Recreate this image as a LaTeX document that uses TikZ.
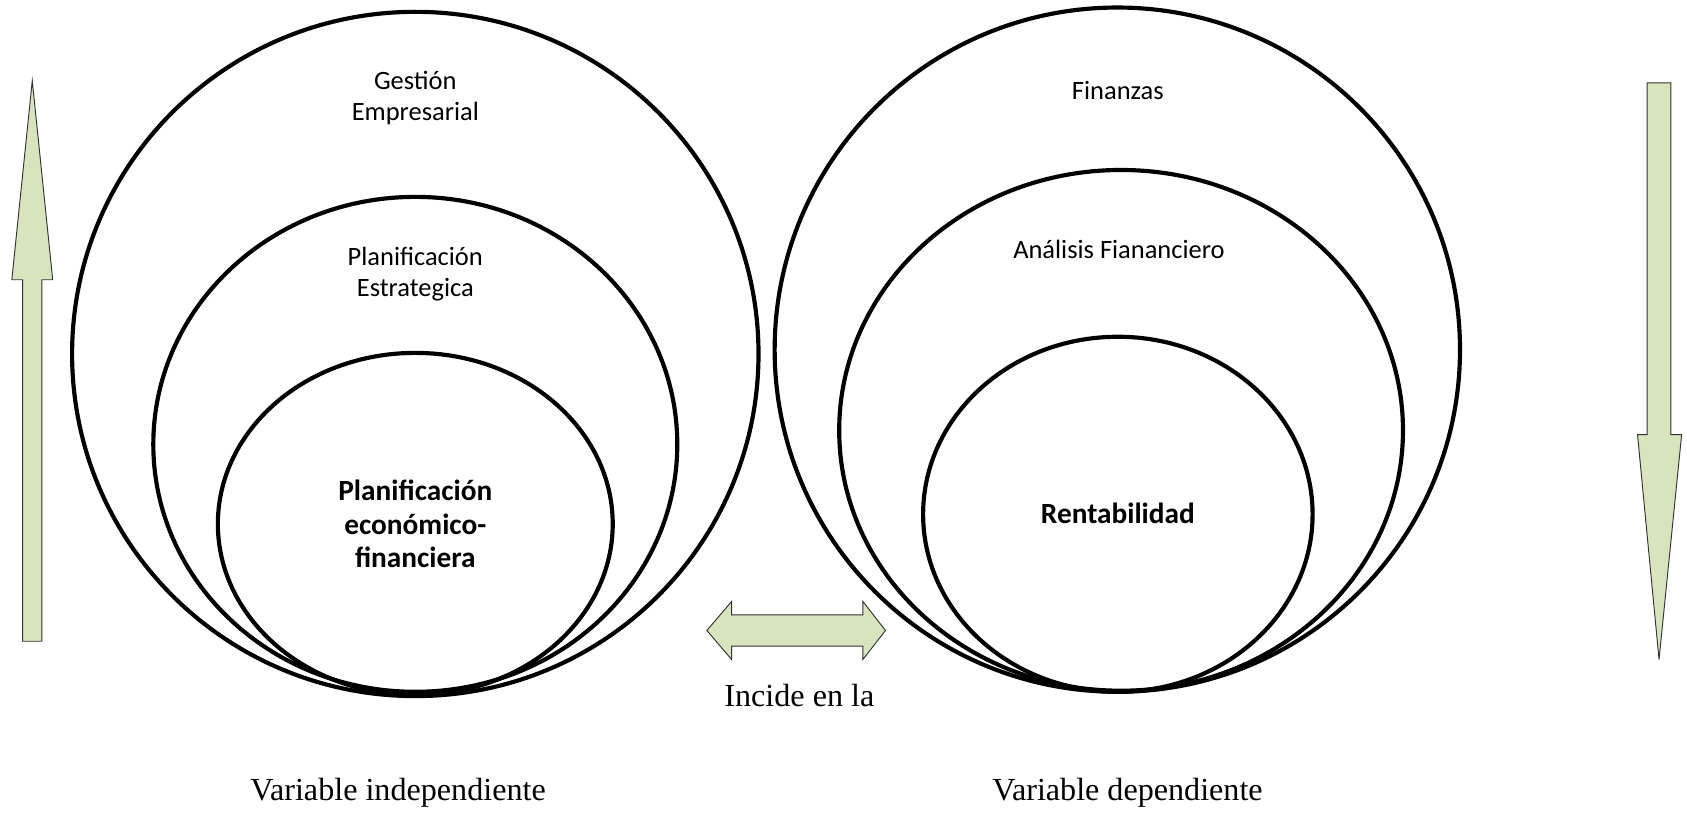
\documentclass[tikz,border=0pt]{standalone}
\usepackage{fontspec}
\setmainfont{Liberation Serif}
\newfontfamily\calibri{Carlito}
\definecolor{arrowgreen}{HTML}{D7E4BD}
\tikzset{
	ring/.style={line width=2.2pt},
	blockarrow/.style={draw=black!80, line width=0.5pt, fill=arrowgreen, line join=miter},
	ringlabel/.style={font=\calibri\fontsize{14}{16.2}\selectfont, align=center},
	corelabel/.style={font=\calibri\bfseries\fontsize{15.5}{17.6}\selectfont, align=center},
	captionlabel/.style={font=\fontsize{17}{20}\selectfont}
}

\begin{document}
\begin{tikzpicture}[x=0.02cm, y=-0.02cm]
			%%%%% START %%%%%
			\useasboundingbox (0, 0) rectangle (1568, 756.6);
			
			% independent side
			\draw[ring] (386, 329) ellipse [x radius=319, y radius=318];
			\draw[ring] (386, 413) ellipse [x radius=243.5, y radius=230];
			\draw[ring] (386, 487) ellipse [x radius=183.5, y radius=159];
			
			\node[ringlabel] (gestion) at (386, 91) {Gestión\\Empresarial};
			\node[ringlabel] (estrategica) at (386, 255) {Planificación\\Estrategica};
			\node[corelabel] (economico) at (386, 487) {Planificación\\económico-\\financiera};
			
			% dependent side
			\draw[ring] (1038.5, 325) ellipse [x radius=318.5, y radius=318];
			\draw[ring] (1042, 400) ellipse [x radius=262, y radius=242];
			\draw[ring] (1039, 478) ellipse [x radius=181, y radius=165];
			
			\node[ringlabel] (finanzas) at (1039, 84) {Finanzas};
			\node[ringlabel] (analisis) at (1040, 232) {Análisis Fiananciero};
			\node[corelabel] (rentabilidad) at (1039, 477) {Rentabilidad};
			
			% block arrows
			\draw[blockarrow] (30, 75) -- (49, 260) -- (39, 260) -- (39, 596) -- (21, 596) -- (21, 260) -- (11, 260) -- cycle;
			\draw[blockarrow] (1531, 77) -- (1553, 77) -- (1553, 404) -- (1563, 404) -- (1542, 613) -- (1522, 404) -- (1531, 404) -- cycle;
			\draw[blockarrow] (657, 586) -- (680, 559) -- (680, 571.5) -- (802, 571.5) -- (802, 559) -- (823, 586)
				-- (802, 613) -- (802, 600.5) -- (680, 600.5) -- (680, 613) -- cycle;
			
			\node[captionlabel] (incide) at (743, 646) {Incide en la};
			\node[captionlabel] (independiente) at (370, 737) {Variable independiente};
			\node[captionlabel] (dependiente) at (1048, 737) {Variable dependiente};
			%%%%% END %%%%%
\end{tikzpicture}
\end{document}
